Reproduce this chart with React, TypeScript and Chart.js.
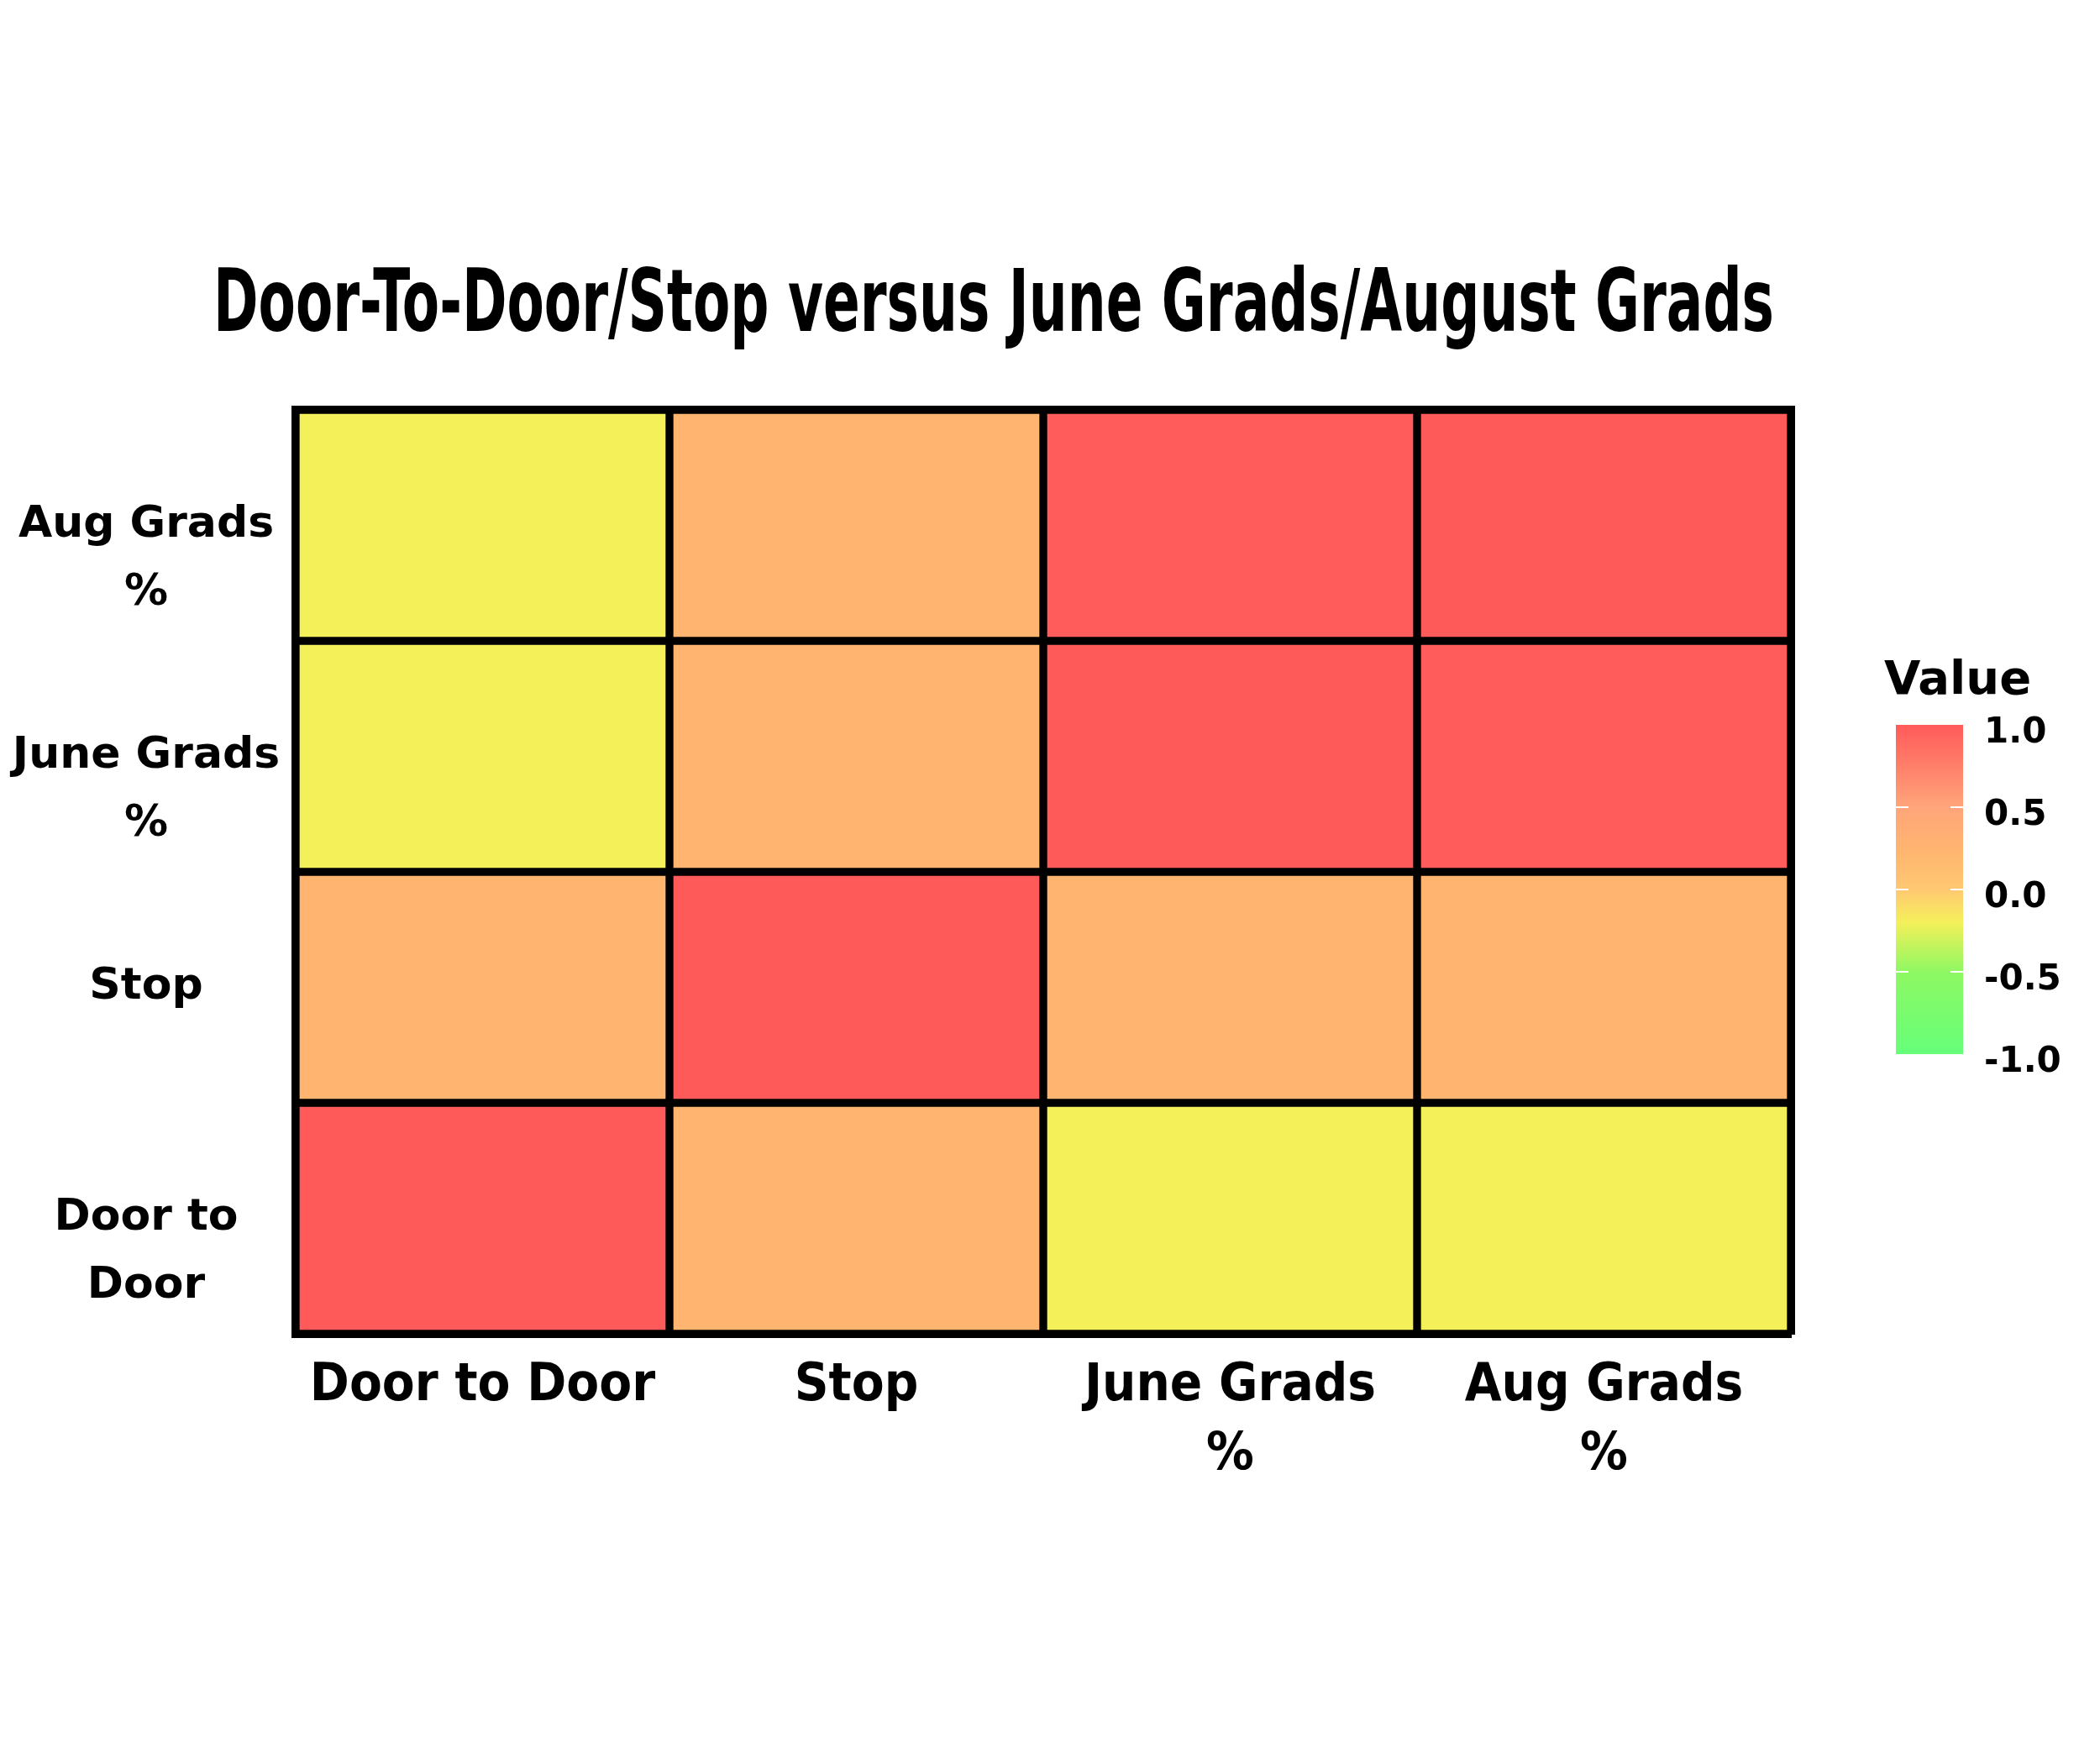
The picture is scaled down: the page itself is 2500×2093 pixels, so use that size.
import React, { useEffect, useRef } from 'react';
import { Chart, registerables } from 'chart.js';

Chart.register(...registerables);

// ---- data ----
const TITLE = 'Door-To-Door/Stop versus June Grads/August Grads';
const X_LABELS: string[][] = [['Door to Door'], ['Stop'], ['June Grads', '%'], ['Aug Grads', '%']];
// rows from bottom to top
const Y_LABELS: string[][] = [['', 'Door to', 'Door'], ['Stop'], ['', 'June Grads', '%'], ['', 'Aug Grads', '%']];
const ROW_D2D = [1.0, 0.25, -0.2, -0.2];
const ROW_STOP = [0.25, 1.0, 0.25, 0.25];
const ROW_JUNE = [-0.2, 0.25, 1.0, 0.99];
const ROW_AUG = [-0.2, 0.25, 0.99, 1.0];
const ROWS = [ROW_D2D, ROW_STOP, ROW_JUNE, ROW_AUG];
const LEGEND_TITLE = 'Value';
const LEGEND_TICKS = [1.0, 0.5, 0.0, -0.5, -1.0];
const LEGEND_TICK_LABELS = ['1.0', '0.5', '0.0', '-0.5', '-1.0'];
const COLOR_STOPS: [number, string][] = [
  [-1.0, '#66ff7a'],
  [-0.5, '#8ef862'],
  [-0.2, '#f4f05a'],
  [0.0, '#ffc872'],
  [0.25, '#ffb470'],
  [0.5, '#ffa57a'],
  [1.0, '#ff5a5a'],
];

const NARROW = "'DejaVu Sans Condensed', 'Liberation Sans Narrow', 'DejaVu Sans', sans-serif";
const WIDE = "'DejaVu Sans', sans-serif";

function hexToRgb(h: string) {
  const n = parseInt(h.slice(1), 16);
  return [(n >> 16) & 255, (n >> 8) & 255, n & 255];
}
function colorFor(v: number) {
  for (let i = 0; i < COLOR_STOPS.length - 1; i++) {
    const [a, ca] = COLOR_STOPS[i];
    const [b, cb] = COLOR_STOPS[i + 1];
    if (v >= a && v <= b) {
      const t = (v - a) / (b - a);
      const A = hexToRgb(ca), B = hexToRgb(cb);
      const c = A.map((x, k) => Math.round(x + (B[k] - x) * t));
      return `rgb(${c[0]},${c[1]},${c[2]})`;
    }
  }
  return COLOR_STOPS[COLOR_STOPS.length - 1][1];
}

// title: tall, condensed hand-lettered look (horizontal squeeze)
const titlePlugin = {
  id: 'squeezedTitle',
  afterDraw(chart: any) {
    const ctx = chart.ctx as CanvasRenderingContext2D;
    ctx.save();
    ctx.font = `bold 103px ${NARROW}`;
    ctx.fillStyle = '#000';
    ctx.textAlign = 'center';
    ctx.textBaseline = 'alphabetic';
    const w = ctx.measureText(TITLE).width;
    const sx = Math.min(1, 1858 / w);
    const cx = 1183;
    ctx.translate(cx, 394);
    ctx.scale(sx, 1);
    ctx.fillText(TITLE, 0, 0);
    ctx.restore();
  },
};

const colorbarPlugin = {
  id: 'colorbar',
  afterDraw(chart: any) {
    const ctx = chart.ctx as CanvasRenderingContext2D;
    const ca = chart.chartArea;
    const x0 = ca.right + 125;
    const w = 80;
    const top = ca.top + 375;
    const h = 392;
    const bottom = top + h;
    ctx.save();
    const grad = ctx.createLinearGradient(0, bottom, 0, top);
    COLOR_STOPS.forEach(([v, c]) => grad.addColorStop((v + 1) / 2, c));
    ctx.fillStyle = grad;
    ctx.fillRect(x0, top, w, h);
    ctx.strokeStyle = '#ffffff';
    ctx.lineWidth = 2;
    LEGEND_TICKS.forEach((v) => {
      if (Math.abs(v) === 1) return;
      const y = bottom - ((v + 1) / 2) * h;
      ctx.beginPath();
      ctx.moveTo(x0, y);
      ctx.lineTo(x0 + 15, y);
      ctx.moveTo(x0 + w - 15, y);
      ctx.lineTo(x0 + w, y);
      ctx.stroke();
    });
    ctx.fillStyle = '#000';
    ctx.textBaseline = 'middle';
    ctx.textAlign = 'left';
    ctx.font = `bold 42px ${WIDE}`;
    LEGEND_TICKS.forEach((v, i) => {
      const y = bottom - ((v + 1) / 2) * h;
      ctx.fillText(LEGEND_TICK_LABELS[i], x0 + 105, y + 10);
    });
    ctx.font = `bold 56px ${WIDE}`;
    ctx.fillText(LEGEND_TITLE, x0 - 14, top - 52);
    ctx.restore();
  },
};

export default function App() {
  const ref = useRef<HTMLCanvasElement>(null);
  useEffect(() => {
    if (!ref.current) return;
    const m = document.createElement('canvas').getContext('2d')!;
    m.font = `bold 52px ${WIDE}`;
    let widest = 0;
    Y_LABELS.forEach((l) => l.forEach((s) => (widest = Math.max(widest, m.measureText(s).width))));
    const yPad = Math.max(0, 352 - 182 - widest / 2);

    const datasets = ROWS.map((row, i) => ({
      label: Y_LABELS[i].join(' '),
      data: X_LABELS.map(() => [i, i + 1]),
      backgroundColor: row.map(colorFor),
      borderColor: '#000',
      borderWidth: 5,
      borderSkipped: false,
      grouped: false,
      barPercentage: 1,
      categoryPercentage: 1,
    }));

    const chart = new Chart(ref.current, {
      type: 'bar',
      data: { labels: X_LABELS as any, datasets: datasets as any },
      options: {
        animation: false,
        responsive: false,
        maintainAspectRatio: false,
        layout: { padding: { left: 0, right: 134, top: 488, bottom: 0 } },
        plugins: {
          legend: { display: false },
          tooltip: { enabled: false },
          title: { display: false },
        },
        scales: {
          x: {
            type: 'category',
            position: 'bottom',
            grid: { display: false },
            border: { display: true, color: '#000', width: 10 },
            ticks: {
              color: '#000',
              font: { family: NARROW, size: 63, weight: 'bold', lineHeight: 1.3 },
              padding: 14,
              maxRotation: 0,
              autoSkip: false,
            },
            afterFit: (s: any) => { s.height = 505; },
          },
          x2: {
            type: 'category',
            position: 'top',
            grid: { display: false },
            border: { display: true, color: '#000', width: 10 },
            ticks: { display: false },
            afterFit: (s: any) => { s.height = 0; },
          },
          y: {
            type: 'linear',
            position: 'left',
            min: 0,
            max: 4,
            grid: { display: false },
            border: { display: true, color: '#000', width: 10 },
            afterBuildTicks: (axis: any) => {
              axis.ticks = Y_LABELS.map((_, i) => ({ value: i + 0.5 }));
            },
            ticks: {
              color: '#000',
              font: { family: WIDE, size: 52, weight: 'bold', lineHeight: 1.55 },
              crossAlign: 'center',
              padding: yPad,
              callback: (_v: any, idx: number) => Y_LABELS[idx],
            },
            afterFit: (s: any) => { s.width = 352; },
          },
          y2: {
            type: 'linear',
            position: 'right',
            min: 0,
            max: 4,
            grid: { display: false },
            border: { display: true, color: '#000', width: 10 },
            ticks: { display: false },
            afterFit: (s: any) => { s.width = 234; },
          },
        },
      } as any,
      plugins: [titlePlugin, colorbarPlugin],
    });
    return () => chart.destroy();
  }, []);

  return (
    <div style={{ position: 'absolute', left: 0, top: 0, width: 2500, height: 2093, background: '#fff' }}>
      <canvas ref={ref} width={2500} height={2093} style={{ width: 2500, height: 2093 }} />
    </div>
  );
}
